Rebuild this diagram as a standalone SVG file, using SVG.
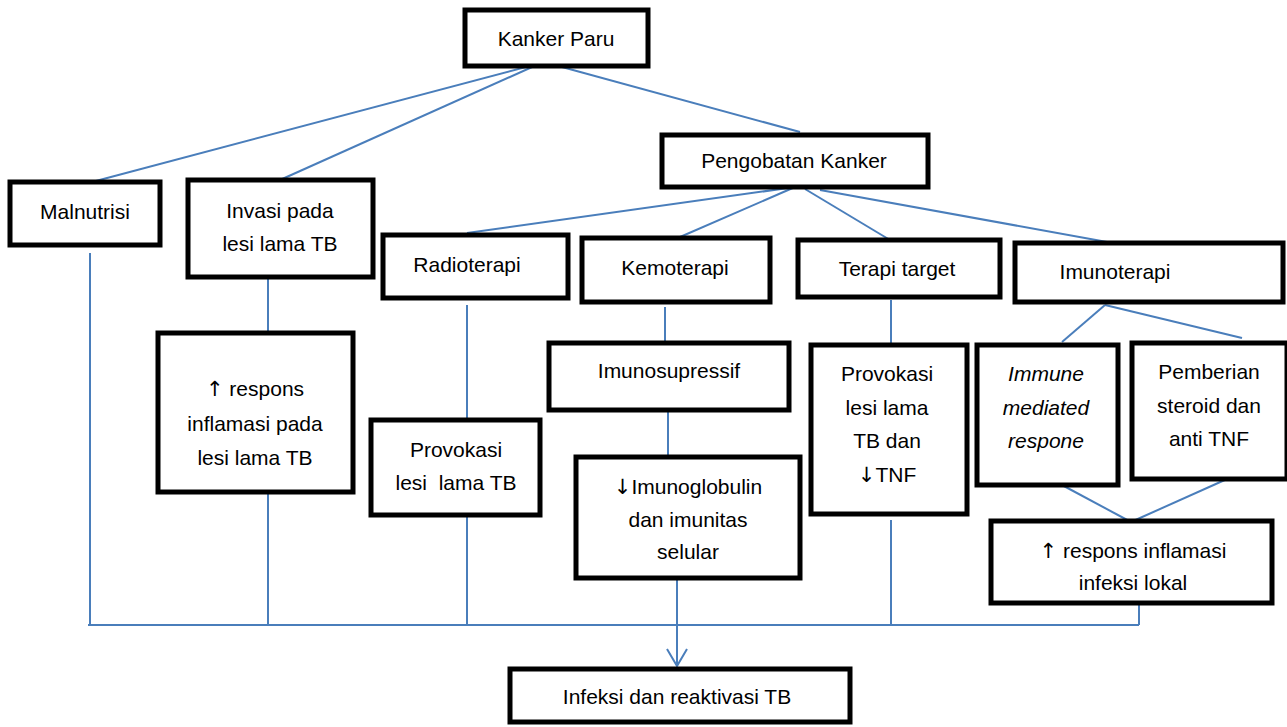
<svg xmlns="http://www.w3.org/2000/svg" width="1287" height="727" viewBox="0 0 1287 727">
<defs>
<style>
.box{fill:#fff;stroke:#000;stroke-width:5}
.t{font-family:"Liberation Sans",Arial,sans-serif;font-size:21px;fill:#000;text-anchor:middle}
.i{font-style:italic}
.a{font-family:"DejaVu Sans",sans-serif;fill:#000}
.c{fill:none;stroke:#4a7ebb;stroke-width:2}
</style>
</defs>
<rect width="1287" height="727" fill="#fff"/>
<g id="connectors">
<path class="c" d="M541,63 L92,182"/>
<path class="c" d="M541,63 L280,180"/>
<path class="c" d="M551,64 L800,132"/>
<path class="c" d="M795,187 L467,233"/>
<path class="c" d="M795,187 L680,237"/>
<path class="c" d="M805,189 L890,240"/>
<path class="c" d="M820,190 L1107,242"/>
<path class="c" d="M90,253 L90,625"/>
<path class="c" d="M268,277 L268,333"/>
<path class="c" d="M268,492 L268,625"/>
<path class="c" d="M467,305 L467,420"/>
<path class="c" d="M467,515 L467,625"/>
<path class="c" d="M665,307 L665,343"/>
<path class="c" d="M668,410 L668,455"/>
<path class="c" d="M891,300 L891,345"/>
<path class="c" d="M891,520 L891,625"/>
<path class="c" d="M1105,305 L1062,342"/>
<path class="c" d="M1105,305 L1242,338"/>
<path class="c" d="M1062,485 L1131,522"/>
<path class="c" d="M1227,479 L1131,522"/>
<path class="c" d="M1139,604 L1139,625"/>
<path class="c" d="M88,625 L1139,625"/>
<path class="c" d="M677,579 L677,666"/>
<path class="c" d="M667,649 L677,666 L687,649"/>
</g>
<g id="kanker-paru"><rect class="box" x="465" y="10" width="183" height="56"/><text class="t" x="556" y="46">Kanker Paru</text></g>
<g id="pengobatan-kanker"><rect class="box" x="662" y="135" width="266" height="52"/><text class="t" x="794" y="168">Pengobatan Kanker</text></g>
<g id="malnutrisi"><rect class="box" x="10" y="182" width="150" height="63"/><text class="t" x="85" y="219">Malnutrisi</text></g>
<g id="invasi"><rect class="box" x="188" y="180" width="185" height="97"/><text class="t" x="280" y="218">Invasi pada</text><text class="t" x="280" y="251">lesi lama TB</text></g>
<g id="radioterapi"><rect class="box" x="383" y="235" width="185" height="63"/><text class="t" x="467" y="272">Radioterapi</text></g>
<g id="kemoterapi"><rect class="box" x="582" y="238" width="188" height="64"/><text class="t" x="675" y="275">Kemoterapi</text></g>
<g id="terapi-target"><rect class="box" x="798" y="240" width="202" height="57"/><text class="t" x="897" y="276">Terapi target</text></g>
<g id="imunoterapi"><rect class="box" x="1015" y="243" width="268" height="59"/><text class="t" x="1115" y="279">Imunoterapi</text></g>
<g id="respons-inflamasi-lesi"><rect class="box" x="158" y="333" width="195" height="159"/><text class="t" x="255" y="396"><tspan class="a">↑</tspan> respons</text><text class="t" x="255" y="431">inflamasi pada</text><text class="t" x="255" y="465">lesi lama TB</text></g>
<g id="provokasi-lesi"><rect class="box" x="371" y="420" width="169" height="95"/><text class="t" x="456" y="457">Provokasi</text><text class="t" x="456" y="490" xml:space="preserve">lesi  lama TB</text></g>
<g id="imunosupressif"><rect class="box" x="549" y="343" width="240" height="67"/><text class="t" x="669" y="378">Imunosupressif</text></g>
<g id="imunoglobulin"><rect class="box" x="576" y="457" width="224" height="121"/><text class="t" x="688" y="494"><tspan class="a">↓</tspan>Imunoglobulin</text><text class="t" x="688" y="527">dan imunitas</text><text class="t" x="688" y="559">selular</text></g>
<g id="provokasi-tnf"><rect class="box" x="811" y="345" width="156" height="169"/><text class="t" x="887" y="381">Provokasi</text><text class="t" x="887" y="415">lesi lama</text><text class="t" x="887" y="448">TB dan</text><text class="t" x="887" y="482"><tspan class="a">↓</tspan>TNF</text></g>
<g id="immune-mediated"><rect class="box" x="977" y="345" width="141" height="140"/><text class="t i" x="1046" y="381">Immune</text><text class="t i" x="1046" y="415">mediated</text><text class="t i" x="1046" y="448">respone</text></g>
<g id="pemberian-steroid"><rect class="box" x="1132" y="343" width="155" height="136"/><text class="t" x="1209" y="379">Pemberian</text><text class="t" x="1209" y="413">steroid dan</text><text class="t" x="1209" y="446">anti TNF</text></g>
<g id="respons-inflamasi-lokal"><rect class="box" x="991" y="521" width="281" height="82"/><text class="t" x="1133" y="558"><tspan class="a">↑</tspan> respons inflamasi</text><text class="t" x="1133" y="590">infeksi lokal</text></g>
<g id="infeksi-reaktivasi"><rect class="box" x="510" y="669" width="340" height="53"/><text class="t" x="677" y="704">Infeksi dan reaktivasi TB</text></g>
</svg>
